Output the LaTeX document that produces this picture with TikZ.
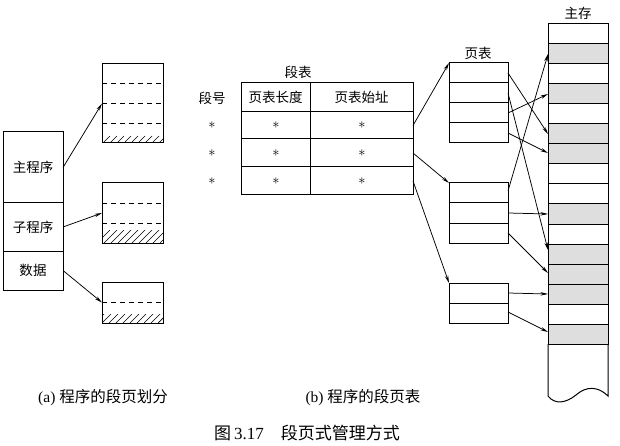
\documentclass[tikz,border=0pt]{standalone}
\usepackage{fontspec}
\setmainfont{Liberation Serif}
\newfontfamily\cjk{Noto Sans CJK SC}
\usetikzlibrary{arrows.meta}
\begin{document}
\begin{tikzpicture}[x=1pt,y=-1pt,
  lbl/.style={font=\cjk\fontsize{13.5}{14}\selectfont, inner sep=0pt},
  pbox/.style={draw, line width=1pt, minimum width=60pt, inner sep=0pt, outer sep=0pt, font=\cjk\fontsize{13.5}{14}\selectfont},
  pgbox/.style={draw, line width=1pt, minimum width=61pt, inner sep=0pt, outer sep=0pt},
  stcell/.style={draw, line width=1pt, inner sep=0pt, outer sep=0pt, font=\cjk\fontsize{13.5}{14}\selectfont},
  ptcell/.style={draw, line width=1pt, minimum width=59pt, minimum height=20pt, inner sep=0pt, outer sep=0pt},
  mcell/.style={draw, line width=1pt, minimum width=60pt, minimum height=20pt, inner sep=0pt, outer sep=0pt},
  gcell/.style={mcell, fill=black!13},
  arr/.style={-{Stealth[length=7.5pt,width=3.4pt]}, line width=0.75pt},
  dsh/.style={line width=0.8pt, dash pattern=on 5pt off 4pt},
  hatchline/.style={line width=0.7pt},
  astx/.style={inner sep=0pt, font=\fontsize{14}{14}\selectfont},
  captxt/.style={inner sep=0pt, font=\fontsize{15.5}{16}\selectfont}
]
\useasboundingbox (0,0) rectangle (620,446);
\fill[white] (0,0) rectangle (620,446);

% ---------- (a) program block ----------
\node[pbox, minimum height=71pt] (mainp) at (33,167.5) {主程序};
\node[pbox, minimum height=48pt] (subp) at (33,227) {子程序};
\node[pbox, minimum height=39pt] (datap) at (33,270.5) {数据};

% page boxes
\node[pgbox, minimum height=79pt] (pg1) at (132.5,103.5) {};
\node[pgbox, minimum height=60pt] (pg2) at (132.5,213) {};
\node[pgbox, minimum height=41pt] (pg3) at (132.5,302.5) {};

\draw[dsh] (102,83) -- (163,83);
\draw[dsh] (102,103) -- (163,103);
\draw[dsh] (102,123) -- (163,123);
\draw[dsh] (102,203) -- (163,203);
\draw[dsh] (102,223) -- (163,223);
\draw[dsh] (102,302) -- (163,302);

\begin{scope}
  \clip (102,136) rectangle (163,143);
  \foreach \x in {96,103,...,170} \draw[hatchline] (\x,143) -- (\x+7,136);
\end{scope}
\begin{scope}
  \clip (102,230) rectangle (163,243);
  \foreach \x in {90,97,...,170} \draw[hatchline] (\x,243) -- (\x+13,230);
\end{scope}
\begin{scope}
  \clip (102,314) rectangle (163,323);
  \foreach \x in {95,102,...,170} \draw[hatchline] (\x,323) -- (\x+9,314);
\end{scope}

\draw[arr] (mainp.east) -- (pg1.west);
\draw[arr] (subp.east) -- (pg2.west);
\draw[arr] (datap.east) -- (pg3.west);

% ---------- (b) segment table ----------
\node[lbl] (lblst) at (298,72) {段表};
\node[lbl] (lblsn) at (212,98) {段号};
\node[stcell, minimum width=69pt, minimum height=29pt] (h1) at (275.5,97.5) {页表长度};
\node[stcell, minimum width=103pt, minimum height=29pt] (h2) at (361.5,97.5) {页表始址};
\node[stcell, minimum width=69pt, minimum height=27pt] (r1a) at (275.5,125.5) {};
\node[stcell, minimum width=103pt, minimum height=27pt] (r1b) at (361.5,125.5) {};
\node[stcell, minimum width=69pt, minimum height=28pt] (r2a) at (275.5,153) {};
\node[stcell, minimum width=103pt, minimum height=28pt] (r2b) at (361.5,153) {};
\node[stcell, minimum width=69pt, minimum height=28pt] (r3a) at (275.5,181) {};
\node[stcell, minimum width=103pt, minimum height=28pt] (r3b) at (361.5,181) {};
\foreach \y [count=\i] in {125.5,153,181} {
  \node[astx] (sn\i) at (212,\y) {$\ast$};
  \node[astx] (sl\i) at (276,\y) {$\ast$};
  \node[astx] (sa\i) at (362,\y) {$\ast$};
}

% page tables
\node[lbl] (lblpt) at (478,53) {页表};
\node[ptcell] (p11) at (478.5,73) {};
\node[ptcell] (p12) at (478.5,93) {};
\node[ptcell] (p13) at (478.5,113) {};
\node[ptcell] (p14) at (478.5,133) {};
\node[ptcell] (p21) at (478.5,193) {};
\node[ptcell] (p22) at (478.5,213) {};
\node[ptcell] (p23) at (478.5,233) {};
\node[ptcell] (p31) at (478.5,293) {};
\node[ptcell] (p32) at (478.5,313) {};

\draw[arr] (r1b.east) -- (p11.north west);
\draw[arr] (r2b.east) -- (p21.north west);
\draw[arr] (r3b.east) -- (p31.north west);

% main memory
\node[lbl] (lblmem) at (578,13) {主存};
\foreach \k in {0,...,15} {
  \node[mcell] (m\k) at (578,34+20*\k) {};
}
\foreach \k in {1,3,5,6,9,11,12,13,15} {
  \node[gcell] at (m\k) {};
}
\draw[line width=1pt] (m15.south west) -- (548,396)
  .. controls (555,405) and (566,403) .. (576,395)
  .. controls (586,386) and (598,386) .. (608,396) -- (m15.south east);

\draw[arr] (p11.east) -- (m5.west);
\draw[arr] (p12.east) -- ([yshift=4pt]m11.west);
\draw[arr] (p13.east) -- (m3.west);
\draw[arr] (p14.east) -- ([yshift=1pt]m6.west);
\draw[arr] ([yshift=2pt]p21.east) -- (m1.west);
\draw[arr] (p22.east) -- (m9.west);
\draw[arr] (p23.east) -- ([yshift=1pt]m12.west);
\draw[arr] (p31.east) -- (m13.west);
\draw[arr] ([yshift=1pt]p32.east) -- ([yshift=2pt]m15.west);

% captions
\node[captxt] (capa) at (103,398) {(a) {\cjk 程序的段页划分}};
\node[captxt] (capb) at (363,398) {(b) {\cjk 程序的段页表}};
\node[inner sep=0pt, font=\fontsize{17}{18}\selectfont] (capmain) at (307,433) {{\cjk 图}\,3.17\quad{\cjk 段页式管理方式}};
\end{tikzpicture}
\end{document}
